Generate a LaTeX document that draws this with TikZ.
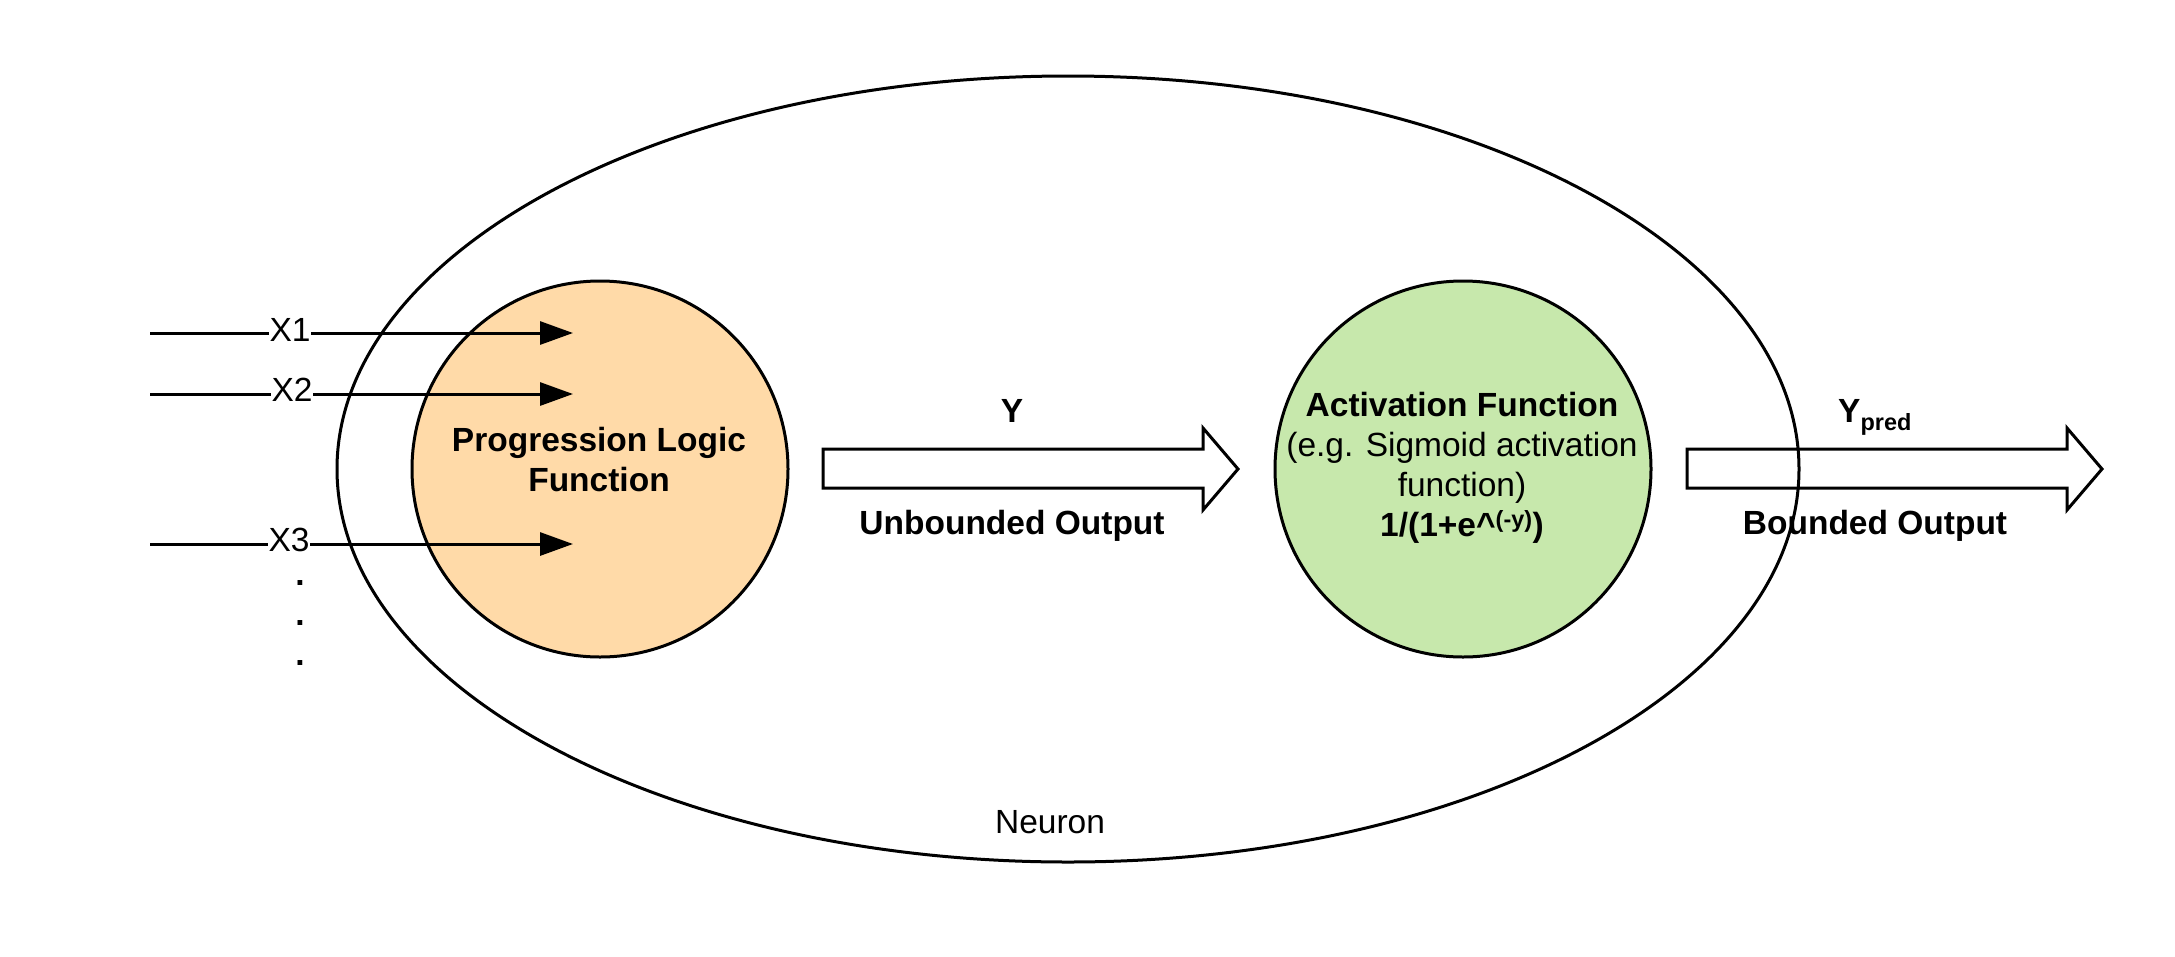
\documentclass[tikz,border=0pt]{standalone}
\usepackage{fontspec}
\setmainfont{Liberation Sans}
\usetikzlibrary{arrows.meta,shapes.geometric}
\definecolor{orangefill}{RGB}{255,218,168}
\definecolor{greenfill}{RGB}{199,232,172}
\begin{document}
\begin{tikzpicture}[x=1pt,y=-1pt,
  txt/.style={font=\fontsize{33.5}{40}\selectfont, inner sep=0pt},
  btxt/.style={font=\fontsize{33.5}{40}\selectfont\bfseries, inner sep=0pt},
  outline/.style={draw=black, line width=3pt},
  inarrow/.style={line width=3pt, -{Triangle[length=33pt,width=23pt]}},
  blockarrow/.style={draw=black, line width=3pt, fill=white, line join=miter}
]
\useasboundingbox (0,0) rectangle (2175,956);
\fill[white] (0,0) rectangle (2175,956);

% neuron ellipse (body), outline drawn later over the arrows
\node[ellipse, minimum width=1462pt, minimum height=786pt, inner sep=0pt] (neuron) at (1068,469) {};

% circles
\node[outline, circle, fill=orangefill, minimum size=376pt, inner sep=0pt] (plf) at (600,469) {};
\node[outline, circle, fill=greenfill, minimum size=376pt, inner sep=0pt] (act) at (1463,469) {};

\node[btxt, align=center] (plftxt) at (599,460) {Progression Logic\\Function};
\node[txt, align=center] (acttxt) at (1462,468) {\textbf{Activation Function}\\(e.g. Sigmoid activation\\function)\\\textbf{1/(1+e\^{}\textsuperscript{(-y)})}};

% inputs
\coordinate (s1) at (150,333); \coordinate (e1) at (573,333);
\coordinate (s2) at (150,394); \coordinate (e2) at (573,394);
\coordinate (s3) at (150,544); \coordinate (e3) at (573,544);
\draw[inarrow] (s1) -- (e1);
\draw[inarrow] (s2) -- (e2);
\draw[inarrow] (s3) -- (e3);
\node[txt, fill=white, inner xsep=1pt, anchor=base] (x1) at (290,341) {X1};
\node[txt, fill=white, inner xsep=1pt, anchor=base] (x2) at (292,401) {X2};
\node[txt, fill=white, inner xsep=1pt, anchor=base] (x3) at (289,551) {X3};
\node[btxt, anchor=base] (d1) at (300,585) {.};
\node[btxt, anchor=base] (d2) at (300,625) {.};
\node[btxt, anchor=base] (d3) at (300,665) {.};

% block arrows
\draw[blockarrow] (823,449) -- (1203,449) -- (1203,428) -- (1238,469) -- (1203,510) -- (1203,488) -- (823,488) -- cycle;
\draw[blockarrow] (1687,449) -- (2067,449) -- (2067,428) -- (2102,469) -- (2067,510) -- (2067,488) -- (1687,488) -- cycle;

\node[btxt, anchor=base] (ylab) at (1012,422) {Y};
\node[btxt, anchor=base] (unb) at (1012,534) {Unbounded Output};
\node[btxt, anchor=base west] (ypred) at (1838,422) {Y\textsubscript{pred}};
\node[btxt, anchor=base] (bnd) at (1875,534) {Bounded Output};

% ellipse outline drawn over arrows
\draw[line width=3pt] (neuron.center) ellipse [x radius=731pt, y radius=393pt];

\node[txt, anchor=base] (neurontxt) at (1050,833) {Neuron};
\end{tikzpicture}
\end{document}
